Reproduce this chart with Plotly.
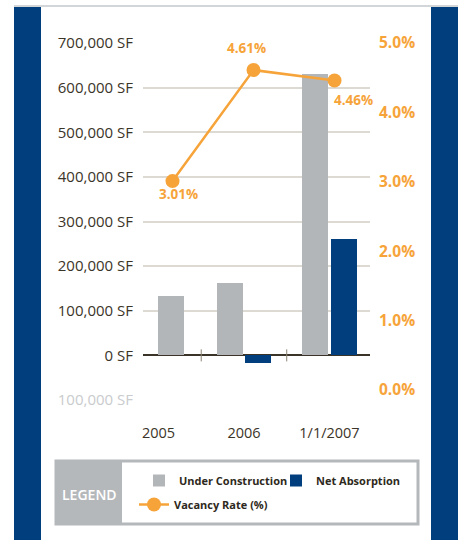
import plotly.graph_objects as go

# ---- data ----
categories = ["2005", "2006", "1/1/2007"]
under_construction = [132000, 163000, 630000]
net_absorption = [None, -18000, 260000]
vacancy_rate = [3.01, 4.61, 4.46]
left_tickvals = [-100000, 0, 100000, 200000, 300000, 400000, 500000, 600000, 700000]
right_tickvals = [0, 1, 2, 3, 4, 5]

# ---- styles ----
ORANGE = "#F6A43A"
GRAY_BAR = "#B3B6B9"
BLUE = "#003E7E"
DARK = "#3B3428"
GRID = "#DDD9D3"

W, H = 461, 540
L, R, T, B = 143, 91, 43, 140
PW, PH = W - L - R, H - T - B


def px_x(px):
    return (px - L) / PW


def px_y(py):
    return (H - B - py) / PH


def fmt_left(v):
    s = f"{abs(v):,} SF"
    if v < 0:
        return f"<span style='color:#C9CBCD'>{s}</span>"
    return s


fig = go.Figure()

fig.add_trace(go.Bar(
    x=categories, y=under_construction, name="Under Construction",
    marker=dict(color=GRAY_BAR, line=dict(width=0)),
    width=0.304, offset=[-0.01, -0.318, -0.318],
    legend="legend",
))
fig.add_trace(go.Bar(
    x=categories, y=net_absorption, name="Net Absorption",
    marker=dict(color=BLUE, line=dict(width=0)),
    width=0.304, offset=0.015,
    legend="legend",
))
fig.add_trace(go.Scatter(
    x=categories, y=vacancy_rate, name="Vacancy Rate (%)",
    mode="lines+markers", xaxis="x2", yaxis="y2",
    line=dict(color=ORANGE, width=2.5),
    marker=dict(color=ORANGE, size=14),
    legend="legend2",
))

# data labels for the vacancy line (category index positions on x2)
label_shifts = [(6, -13), (-7, 22), (19, -20)]
for i, (v, (dx, dy)) in enumerate(zip(vacancy_rate, label_shifts)):
    fig.add_annotation(
        x=i, y=v, xref="x2", yref="y2", text=f"{v:.2f}%", showarrow=False,
        xshift=dx, yshift=dy, xanchor="center", yanchor="middle",
        font=dict(family="Open Sans", size=13.5, color=ORANGE, weight="bold"),
    )

# tick marks between categories on the zero line
for i in range(len(categories) - 1):
    fig.add_shape(type="line", xref="x", yref="y",
                  x0=i + 0.5, x1=i + 0.5, y0=-13500, y1=13500,
                  line=dict(color="#8C8474", width=1))

# frame decorations
shapes = [
    dict(type="rect", x0=px_x(14), x1=px_x(41), y0=px_y(7), y1=px_y(540),
         fillcolor=BLUE, line=dict(width=0)),
    dict(type="rect", x0=px_x(431), x1=px_x(458), y0=px_y(7), y1=px_y(540),
         fillcolor=BLUE, line=dict(width=0)),
    dict(type="line", x0=px_x(14), x1=px_x(458), y0=px_y(6), y1=px_y(6),
         line=dict(color="#D3D6D9", width=2)),
    dict(type="rect", x0=px_x(56), x1=px_x(418), y0=px_y(461), y1=px_y(524),
         fillcolor="white", line=dict(color="#B5B8BB", width=3)),
    dict(type="rect", x0=px_x(55), x1=px_x(122), y0=px_y(460), y1=px_y(525),
         fillcolor="#B5B8BB", line=dict(width=0)),
]
for s in shapes:
    fig.add_shape(xref="paper", yref="paper", layer="below", **s)

fig.add_annotation(
    x=px_x(89), y=px_y(494), xref="paper", yref="paper", text="LEGEND",
    showarrow=False, xanchor="center", yanchor="middle",
    font=dict(family="Open Sans", size=14, color="white", weight=600),
)

fig.update_layout(
    width=W, height=H,
    margin=dict(l=L, r=R, t=T, b=B, pad=0),
    paper_bgcolor="white", plot_bgcolor="white",
    barmode="overlay", bargap=0,
    font=dict(family="Open Sans", color=DARK),
    xaxis=dict(
        type="category", categoryorder="array", categoryarray=categories,
        range=[-0.181, 2.474], showgrid=False, showline=False, zeroline=False,
        ticks="", ticklabelstandoff=22,
        tickfont=dict(family="Open Sans", size=14.5, color=DARK),
    ),
    xaxis2=dict(
        type="category", categoryorder="array", categoryarray=categories,
        overlaying="x", range=[-0.364, 2.438], visible=False,
    ),
    yaxis=dict(
        range=[-100000, 700000], tickvals=left_tickvals,
        ticktext=[fmt_left(v) for v in left_tickvals],
        showgrid=True, gridcolor=GRID, gridwidth=1.5,
        zeroline=True, zerolinecolor="#3A3328", zerolinewidth=1.5,
        showline=False, ticks="", ticklabelstandoff=9,
        tickfont=dict(family="Open Sans", size=15, color=DARK),
    ),
    yaxis2=dict(
        overlaying="y", side="right", range=[-0.144, 5.0],
        tickvals=right_tickvals, ticktext=[f"{v:.1f}%" for v in right_tickvals],
        showgrid=False, zeroline=False, showline=False, ticks="",
        ticklabelstandoff=8,
        tickfont=dict(family="Open Sans", size=15.5, color=ORANGE, weight="bold"),
    ),
    legend=dict(
        orientation="h", x=px_x(139), y=px_y(466), xanchor="left", yanchor="top",
        entrywidth=92, entrywidthmode="pixels", bgcolor="rgba(0,0,0,0)",
        font=dict(family="Open Sans", size=11, color="#2E2920", weight="bold"),
        traceorder="normal",
    ),
    legend2=dict(
        orientation="h", x=px_x(134), y=px_y(490), xanchor="left", yanchor="top",
        bgcolor="rgba(0,0,0,0)",
        font=dict(family="Open Sans", size=11, color="#2E2920", weight="bold"),
    ),
)

fig.write_html("out.html")
